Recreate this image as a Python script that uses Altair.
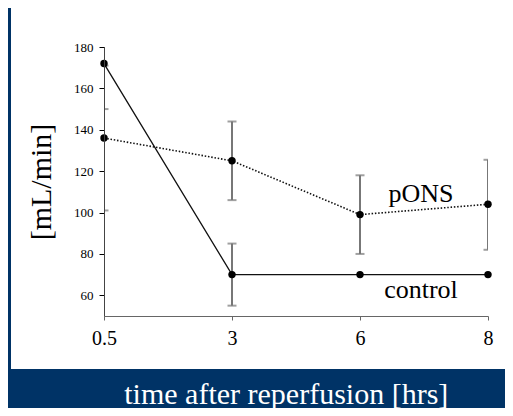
import altair as alt
import pandas as pd

# ---- data ----
times = ["0.5", "3", "6", "8"]
control_mean = [172, 70, 70, 70]
control_lo = [150, 55, None, None]
control_hi = [194, 85, None, None]
pons_mean = [136, 125, 99, 104]
pons_lo = [101, 106, 80, 82]
pons_hi = [171, 144, 118, 125.5]
label_text = ["pONS", "control"]
label_value = [105.2, 58.5]
label_anchor = ["8", "8"]
y_ticks = [60, 80, 100, 120, 140, 160, 180]

SERIF = "Liberation Serif"

rows = []
for s, means, los, his in [("control", control_mean, control_lo, control_hi),
                           ("pONS", pons_mean, pons_lo, pons_hi)]:
    for t, m, lo, hi in zip(times, means, los, his):
        rows.append({"series": s, "time": t, "mean": m, "lo": lo, "hi": hi})
df = pd.DataFrame(rows)
err_df = df.dropna(subset=["lo", "hi"])
lab_df = pd.DataFrame({"label": label_text, "value": label_value, "time": label_anchor})
panel_df = pd.DataFrame({"p": [0]})

yscale = alt.Scale(domain=[50, 180], nice=False, zero=False)
xscale = alt.Scale(type="point", padding=0, domain=times)

x_axis = alt.Axis(
    title="time after reperfusion [hrs]", titleColor="white", titleFont=SERIF,
    titleFontSize=30, titleFontWeight="normal", titleX=181.8, titleY=87,
    titleBaseline="alphabetic", titleAlign="center",
    labelFont=SERIF, labelFontSize=20, labelColor="black", labelAngle=0,
    labelPadding=8, tickSize=4, tickColor="#666", domainColor="#666",
    grid=False, zindex=1)
y_axis = alt.Axis(
    values=y_ticks, title="[mL/min]", titleColor="black", titleFont=SERIF,
    titleFontSize=30, titleFontWeight="normal", titleAngle=270, titleX=-63,
    titleY=134.5, titleBaseline="middle", titleAlign="center",
    labelFont=SERIF, labelFontSize=13, labelColor="black", labelPadding=6,
    tickSize=5, tickColor="black", domainColor="#444", grid=False, zindex=1)

X = alt.X("time:O", scale=xscale, sort=times, axis=x_axis)

panel = alt.Chart(panel_df).mark_rect(color="white").encode(
    x=alt.value(-93), x2=alt.value(401), y=alt.value(-39), y2=alt.value(322))

err = alt.Chart(err_df).mark_rule(color="#777", strokeWidth=2, clip=True).encode(
    x=X, y=alt.Y("lo:Q", scale=yscale, axis=y_axis), y2="hi:Q")
cap_lo = alt.Chart(err_df).mark_tick(color="#777", size=9, thickness=2, orient="horizontal", clip=True).encode(
    x=X, y=alt.Y("lo:Q", scale=yscale))
cap_hi = alt.Chart(err_df).mark_tick(color="#777", size=9, thickness=2, orient="horizontal", clip=True).encode(
    x=X, y=alt.Y("hi:Q", scale=yscale))

line_c = alt.Chart(df[df.series == "control"]).mark_line(color="#111", strokeWidth=1.3).encode(
    x=X, y=alt.Y("mean:Q", scale=yscale))
line_p = alt.Chart(df[df.series == "pONS"]).mark_line(color="#111", strokeWidth=1.6, strokeDash=[1.5, 1.8]).encode(
    x=X, y=alt.Y("mean:Q", scale=yscale))
pts = alt.Chart(df).mark_circle(size=55, color="black", opacity=1).encode(
    x=X, y=alt.Y("mean:Q", scale=yscale))
labels = alt.Chart(lab_df).mark_text(font=SERIF, fontSize=26, fontWeight="normal", color="black",
                                     align="center", baseline="alphabetic", dx=-67).encode(
    x=X, y=alt.Y("value:Q", scale=yscale), text="label:N")

chart = alt.layer(panel, err, cap_lo, cap_hi, line_c, line_p, pts, labels).properties(
    width=384, height=269,
    padding={"left": 96, "top": 39, "right": 17, "bottom": 92},
    autosize=alt.AutoSizeParams(type="none"),
    background="#003366",
).configure(font=SERIF).configure_axis(labelFont=SERIF, titleFont=SERIF).configure_text(
    font=SERIF
).configure_view(stroke=None)

chart.save("out.html", embed_options={"renderer": "svg", "actions": False})
